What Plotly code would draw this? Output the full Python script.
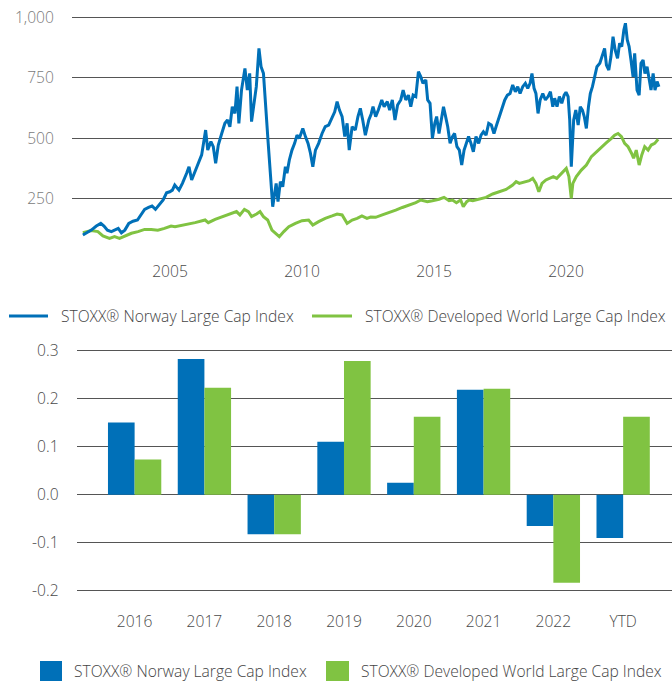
import plotly.graph_objects as go
import pandas as pd

# ---------------- data ----------------
norway_years = [
    2001.70, 2001.83, 2002.02, 2002.21, 2002.38, 2002.50, 2002.63, 2002.78, 2002.88, 2003.04,
    2003.16, 2003.29, 2003.44, 2003.60, 2003.77, 2003.92, 2004.04, 2004.19, 2004.32, 2004.45,
    2004.60, 2004.74, 2004.87, 2004.99, 2005.09, 2005.18, 2005.34, 2005.47, 2005.63, 2005.72,
    2005.82, 2005.97, 2006.10, 2006.20, 2006.35, 2006.43, 2006.55, 2006.64, 2006.73, 2006.83,
    2006.96, 2007.08, 2007.18, 2007.27, 2007.36, 2007.46, 2007.54, 2007.61, 2007.71, 2007.84,
    2007.93, 2008.02, 2008.09, 2008.18, 2008.27, 2008.37, 2008.45, 2008.54, 2008.62, 2008.72,
    2008.81, 2008.89, 2009.02, 2009.09, 2009.18, 2009.27, 2009.37, 2009.43, 2009.52, 2009.62,
    2009.72, 2009.81, 2009.90, 2010.03, 2010.13, 2010.23, 2010.32, 2010.41, 2010.51, 2010.63,
    2010.76, 2010.88, 2011.01, 2011.14, 2011.24, 2011.33, 2011.42, 2011.52, 2011.62, 2011.71,
    2011.79, 2011.90, 2012.02, 2012.12, 2012.21, 2012.30, 2012.40, 2012.53, 2012.62, 2012.69,
    2012.79, 2012.89, 2013.02, 2013.11, 2013.23, 2013.32, 2013.42, 2013.52, 2013.62, 2013.74,
    2013.83, 2013.93, 2014.03, 2014.12, 2014.21, 2014.31, 2014.41, 2014.50, 2014.58, 2014.69,
    2014.76, 2014.85, 2014.94, 2015.03, 2015.10, 2015.19, 2015.28, 2015.36, 2015.44, 2015.52,
    2015.61, 2015.70, 2015.78, 2015.87, 2015.96, 2016.05, 2016.14, 2016.23, 2016.31, 2016.40,
    2016.49, 2016.59, 2016.69, 2016.78, 2016.87, 2016.97, 2017.07, 2017.17, 2017.27, 2017.37,
    2017.47, 2017.58, 2017.68, 2017.78, 2017.88, 2017.98, 2018.08, 2018.17, 2018.26, 2018.36,
    2018.46, 2018.55, 2018.64, 2018.71, 2018.79, 2018.86, 2018.94, 2019.02, 2019.12, 2019.22,
    2019.32, 2019.41, 2019.50, 2019.57, 2019.66, 2019.75, 2019.84, 2019.93, 2020.00, 2020.08,
    2020.14, 2020.20, 2020.24, 2020.29, 2020.37, 2020.46, 2020.54, 2020.62, 2020.69, 2020.77,
    2020.85, 2020.92, 2021.00, 2021.09, 2021.17, 2021.28, 2021.38, 2021.46, 2021.53, 2021.62,
    2021.70, 2021.78, 2021.86, 2021.95, 2022.03, 2022.11, 2022.19, 2022.25, 2022.32, 2022.39,
    2022.46, 2022.54, 2022.60, 2022.69, 2022.77, 2022.84, 2022.92, 2022.99, 2023.07, 2023.14,
    2023.22, 2023.30, 2023.37, 2023.45, 2023.52,
]
norway_values = [
    98, 107, 118, 135, 146, 135, 118, 112, 118, 125,
    107, 118, 146, 155, 160, 185, 204, 212, 218, 204,
    226, 243, 273, 277, 284, 305, 284, 312, 354, 381,
    326, 367, 402, 430, 533, 450, 485, 464, 395, 471,
    519, 561, 575, 547, 630, 602, 713, 561, 699, 789,
    699, 768, 568, 644, 713, 872, 796, 768, 616, 478,
    340, 215, 312, 236, 319, 298, 381, 354, 409, 450,
    478, 512, 499, 540, 506, 478, 437, 381, 450, 478,
    519, 547, 554, 589, 609, 651, 616, 589, 506, 561,
    450, 547, 533, 589, 623, 575, 512, 575, 600, 630,
    589, 616, 658, 630, 651, 616, 658, 575, 637, 658,
    699, 658, 678, 630, 678, 672, 775, 754, 727, 741,
    658, 644, 499, 561, 589, 519, 589, 630, 589, 547,
    478, 506, 519, 464, 450, 388, 450, 478, 506, 478,
    443, 506, 478, 512, 526, 512, 561, 554, 519, 554,
    589, 623, 658, 678, 685, 720, 692, 713, 685, 713,
    727, 706, 727, 768, 706, 685, 602, 658, 685, 658,
    672, 692, 630, 665, 630, 672, 644, 678, 690, 672,
    575, 381, 450, 575, 616, 554, 630, 616, 589, 540,
    630, 685, 713, 754, 796, 810, 851, 872, 803, 782,
    837, 920, 865, 831, 893, 879, 948, 976, 907, 879,
    824, 754, 851, 699, 678, 810, 824, 768, 796, 754,
    699, 768, 699, 734, 713,
]

world_years = [
    2001.70, 2002.02, 2002.27, 2002.46, 2002.71, 2002.90, 2003.09, 2003.29, 2003.54, 2003.79,
    2004.04, 2004.29, 2004.54, 2004.79, 2005.04, 2005.19, 2005.57, 2005.95, 2006.33, 2006.45,
    2006.71, 2007.08, 2007.33, 2007.52, 2007.65, 2007.82, 2007.97, 2008.09, 2008.28, 2008.41,
    2008.54, 2008.70, 2008.86, 2008.95, 2009.14, 2009.31, 2009.50, 2009.75, 2010.00, 2010.25,
    2010.41, 2010.63, 2010.88, 2011.14, 2011.33, 2011.52, 2011.71, 2011.90, 2012.09, 2012.27,
    2012.46, 2012.60, 2012.79, 2013.04, 2013.30, 2013.55, 2013.80, 2014.05, 2014.31, 2014.50,
    2014.75, 2014.94, 2015.19, 2015.38, 2015.57, 2015.70, 2015.85, 2016.01, 2016.11, 2016.24,
    2016.33, 2016.47, 2016.72, 2016.97, 2017.22, 2017.47, 2017.73, 2017.98, 2018.11, 2018.23,
    2018.42, 2018.61, 2018.74, 2018.86, 2018.97, 2019.09, 2019.24, 2019.40, 2019.52, 2019.65,
    2019.78, 2019.90, 2020.01, 2020.11, 2020.20, 2020.26, 2020.39, 2020.58, 2020.77, 2020.96,
    2021.15, 2021.34, 2021.53, 2021.72, 2021.84, 2021.97, 2022.10, 2022.22, 2022.35, 2022.48,
    2022.56, 2022.66, 2022.77, 2022.87, 2022.98, 2023.11, 2023.23, 2023.36, 2023.49,
]
world_values = [
    107, 116, 112, 94, 84, 91, 84, 94, 105, 112,
    121, 121, 118, 125, 135, 132, 139, 149, 160, 149,
    163, 177, 185, 195, 181, 204, 195, 174, 185, 195,
    174, 160, 118, 108, 91, 112, 132, 146, 157, 160,
    139, 153, 167, 177, 185, 181, 146, 160, 167, 177,
    167, 172, 171, 181, 190, 201, 212, 222, 232, 243,
    236, 240, 246, 254, 240, 243, 232, 243, 215, 236,
    243, 240, 246, 254, 268, 277, 287, 305, 319, 312,
    319, 323, 333, 312, 277, 312, 326, 333, 340, 333,
    347, 360, 374, 340, 250, 312, 340, 367, 388, 423,
    443, 464, 481, 499, 512, 519, 506, 478, 464, 437,
    416, 450, 388, 430, 464, 450, 471, 478, 495,
]

bar_categories = ["2016", "2017", "2018", "2019", "2020", "2021", "2022", "YTD"]
bar_norway = [0.150, 0.282, -0.082, 0.110, 0.025, 0.218, -0.065, -0.090]
bar_world = [0.073, 0.222, -0.082, 0.278, 0.162, 0.220, -0.183, 0.162]

series_names = ["STOXX® Norway Large Cap Index", "STOXX® Developed World Large Cap Index"]

top_y_tickvals = [250, 500, 750, 1000]
top_y_ticktext = ["250", "500", "750", "1,000"]
top_x_tick_years = [2005, 2010, 2015, 2020]
bar_y_tickvals = [0.3, 0.2, 0.1, 0.0, -0.1, -0.2]
bar_y_ticktext = ["0.3", "0.2", "0.1", "0.0", "-0.1", "-0.2"]

# ---------------- styling ----------------
BLUE = "#0070b8"
GREEN = "#80c342"
GRID = "#555555"
W, H = 672, 681
FONT = "Open Sans"
FS = 15.6


def to_date(y):
    yr = int(y)
    start = pd.Timestamp(year=yr, month=1, day=1)
    end = pd.Timestamp(year=yr + 1, month=1, day=1)
    return start + (end - start) * (y - yr)


def px_x(p):
    return p / W


def px_y(p):
    return 1 - p / H


fig = go.Figure()

fig.add_trace(go.Scatter(
    x=[to_date(v) for v in world_years], y=world_values, mode="lines",
    name=series_names[1], line=dict(color=GREEN, width=3), xaxis="x", yaxis="y",
    showlegend=False,
))
fig.add_trace(go.Scatter(
    x=[to_date(v) for v in norway_years], y=norway_values, mode="lines",
    name=series_names[0], line=dict(color=BLUE, width=3), xaxis="x", yaxis="y",
    showlegend=False,
))

fig.add_trace(go.Bar(
    x=bar_categories, y=bar_norway, name=series_names[0], marker=dict(color=BLUE, line=dict(width=0)),
    xaxis="x2", yaxis="y2", showlegend=False,
))
fig.add_trace(go.Bar(
    x=bar_categories, y=bar_world, name=series_names[1], marker=dict(color=GREEN, line=dict(width=0)),
    xaxis="x2", yaxis="y2", showlegend=False,
))

tick_font_light = dict(family=FONT, size=FS, color="#7a7a7a", weight=300)
tick_font_dark = dict(family=FONT, size=FS, color="#4a4a4a", weight=300)

fig.update_layout(
    width=W, height=H,
    margin=dict(l=0, r=0, t=0, b=0, autoexpand=False),
    paper_bgcolor="white", plot_bgcolor="white",
    font=dict(family=FONT, size=FS, color="#444444", weight=300),
    showlegend=False,
    barmode="group", bargap=0.236, bargroupgap=0,
    xaxis=dict(
        domain=[px_x(72), 1],
        type="date",
        range=[to_date(2001.288), to_date(2024.015)],
        tickvals=[to_date(y) for y in top_x_tick_years],
        ticktext=[str(y) for y in top_x_tick_years],
        showgrid=False, zeroline=False, showline=False, ticks="",
        tickfont=tick_font_dark, automargin=False,
        anchor="y",
    ),
    yaxis=dict(
        domain=[px_y(260), px_y(16)],
        range=[-5.9, 1006.2],
        tickvals=top_y_tickvals, ticktext=top_y_ticktext,
        showgrid=True, gridcolor=GRID, gridwidth=1,
        zeroline=False, showline=False,
        ticks="outside", ticklen=14, tickcolor="rgba(0,0,0,0)",
        tickfont=tick_font_light, automargin=False,
        anchor="x",
    ),
    xaxis2=dict(
        domain=[px_x(76.7), 1],
        type="category",
        range=[-0.83, 7.70],
        showgrid=False, zeroline=False, showline=False, ticks="",
        tickfont=tick_font_dark, automargin=False,
        anchor="y2",
    ),
    yaxis2=dict(
        domain=[px_y(610), px_y(348)],
        range=[-0.2395, 0.3048],
        tickvals=bar_y_tickvals, ticktext=bar_y_ticktext,
        showgrid=True, gridcolor=GRID, gridwidth=1,
        zeroline=False, showline=False,
        ticks="outside", ticklen=14, tickcolor="rgba(0,0,0,0)",
        tickfont=tick_font_dark, automargin=False,
        anchor="x2",
    ),
)

# ---------------- legends (drawn manually to match layout) ----------------
legend_font = dict(family=FONT, size=FS, color="#444444", weight=300)

# top legend (line samples)
top_leg_y = 316
for (x0, x1, tx), color, name in zip([(9, 48, 59), (312, 352, 363)], [BLUE, GREEN], series_names):
    fig.add_shape(type="line", xref="paper", yref="paper",
                  x0=px_x(x0), x1=px_x(x1), y0=px_y(top_leg_y), y1=px_y(top_leg_y),
                  line=dict(color=color, width=3))
    fig.add_annotation(xref="paper", yref="paper", x=px_x(tx), y=px_y(top_leg_y),
                       text=name, showarrow=False, xanchor="left", yanchor="middle",
                       font=legend_font)

# bottom legend (square swatches)
bot_leg_y = 671
for (x0, x1, tx), color, name in zip([(40, 62, 72), (326, 349, 359)], [BLUE, GREEN], series_names):
    fig.add_shape(type="rect", xref="paper", yref="paper",
                  x0=px_x(x0), x1=px_x(x1), y0=px_y(683), y1=px_y(661),
                  line=dict(width=0), fillcolor=color)
    fig.add_annotation(xref="paper", yref="paper", x=px_x(tx), y=px_y(bot_leg_y),
                       text=name, showarrow=False, xanchor="left", yanchor="middle",
                       font=legend_font)

fig.write_html(
    "out.html",
    config={"displayModeBar": False},
    post_script="document.body.style.margin='0';document.body.style.padding='0';"
                "document.body.style.overflow='hidden';",
)
